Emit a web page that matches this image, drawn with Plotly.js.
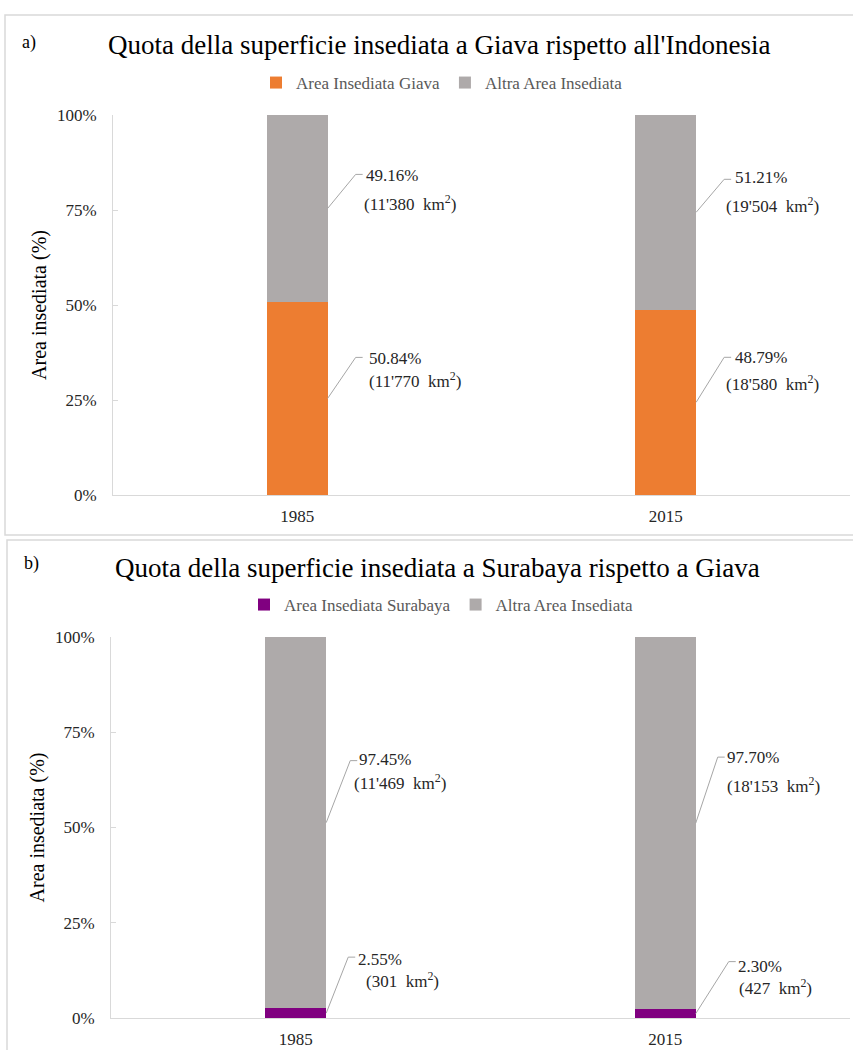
<!DOCTYPE html>
<html>
<head>
<meta charset="utf-8">
<script src="https://cdn.plot.ly/plotly-3.0.1.min.js"></script>
<style>html,body{margin:0;padding:0;background:#fff;}#chart{width:853px;height:1050px;}</style>
</head>
<body>
<div id="chart"></div>
<script>
// ---- data ----
const categories = ['1985', '2015'];
const yTicks = [0, 25, 50, 75, 100];
const yTickText = ['0%', '25%', '50%', '75%', '100%'];

// Panel a: Java vs rest of Indonesia
const giavaPct = [50.84, 48.79];
const giavaKm = ["11'770", "18'580"];
const altraPctA = [49.16, 51.21];
const altraKmA = ["11'380", "19'504"];

// Panel b: Surabaya vs rest of Java
const surabayaPct = [2.55, 2.30];
const surabayaKm = ["301", "427"];
const altraPctB = [97.45, 97.70];
const altraKmB = ["11'469", "18'153"];

const titleA = "Quota della superficie insediata a Giava rispetto all'Indonesia";
const titleB = "Quota della superficie insediata a Surabaya rispetto a Giava";
const yTitle = 'Area insediata (%)';

// ---- styling ----
const W = 853, H = 1050;
const FONT = 'Liberation Serif, Times New Roman, serif';
const ORANGE = '#ED7D31', GRAY = '#AEAAAA', PURPLE = '#800080';
const AXC = '#D9D9D9', LEADER = '#A6A6A6';
const BW = 0.165;
const px = v => v / W;
const py = v => 1 - v / H;

const traces = [
  {type: 'bar', x: categories, y: giavaPct, name: 'Area Insediata Giava', marker: {color: ORANGE}, width: BW, xaxis: 'x', yaxis: 'y', legend: 'legend', hoverinfo: 'skip'},
  {type: 'bar', x: categories, y: altraPctA, name: 'Altra Area Insediata', marker: {color: GRAY}, width: BW, xaxis: 'x', yaxis: 'y', legend: 'legend', hoverinfo: 'skip'},
  {type: 'bar', x: categories, y: surabayaPct, name: 'Area Insediata Surabaya', marker: {color: PURPLE}, width: BW, xaxis: 'x2', yaxis: 'y2', legend: 'legend2', hoverinfo: 'skip'},
  {type: 'bar', x: categories, y: altraPctB, name: 'Altra Area Insediata', marker: {color: GRAY}, width: BW, xaxis: 'x2', yaxis: 'y2', legend: 'legend2', hoverinfo: 'skip'}
];

// label offsets (pixels, right/up) : [elbowDx, elbowDy, t1dx, t1dy, t2dx, t2dy]
const offA = {
  bottom: [[28, 41, 39, 40, 39, 18], [28, 45, 37, 45, 28, 19]],
  top:    [[28, 34, 36, 33, 34, 5],  [28, 33, 37, 35, 28, 7]]
};
const offB = {
  bottom: [[22, 56, 30, 54, 38, 33], [33, 52, 40, 47, 41, 27]],
  top:    [[24, 62, 31, 63, 26, 41], [22, 66, 29, 66, 29, 38]]
};

const shapes = [];
const annotations = [];
const LABEL_FONT = {family: FONT, size: 17, color: '#262626'};

function addLabels(xref, yref, bottomVals, bottomKm, topVals, topKm, off) {
  categories.forEach((c, i) => {
    const xa = i + BW / 2;
    [[bottomVals[i] / 2, bottomVals[i], bottomKm[i], off.bottom[i]],
     [bottomVals[i] + topVals[i] / 2, topVals[i], topKm[i], off.top[i]]].forEach(([mid, val, km, o]) => {
      shapes.push({type: 'path', xref: xref, yref: yref, xsizemode: 'pixel', ysizemode: 'pixel',
        xanchor: xa, yanchor: mid,
        path: `M0,0 L${o[0]},${o[1]} L${o[0] + 7},${o[1]}`,
        line: {color: LEADER, width: 1}});
      annotations.push({xref: xref, yref: yref, x: xa, y: mid, xshift: o[2], yshift: o[3],
        xanchor: 'left', yanchor: 'middle', showarrow: false,
        text: val.toFixed(2) + '%', font: LABEL_FONT});
      annotations.push({xref: xref, yref: yref, x: xa, y: mid, xshift: o[4], yshift: o[5],
        xanchor: 'left', yanchor: 'middle', showarrow: false,
        text: '(' + km + '  km<sup>2</sup>)', font: LABEL_FONT});
    });
  });
}
addLabels('x', 'y', giavaPct, giavaKm, altraPctA, altraKmA, offA);
addLabels('x2', 'y2', surabayaPct, surabayaKm, altraPctB, altraKmB, offB);

// panel borders
shapes.push({type: 'rect', xref: 'paper', yref: 'paper', x0: px(5), x1: 1.02, y0: py(535), y1: py(15), line: {color: AXC, width: 1.5}});
shapes.push({type: 'rect', xref: 'paper', yref: 'paper', x0: px(7), x1: 1.02, y0: -0.02, y1: py(540), line: {color: AXC, width: 1.5}});

// titles
const TITLE_FONT = {family: FONT, size: 27, color: '#000'};
annotations.push({xref: 'paper', yref: 'paper', x: px(439), y: py(45), xanchor: 'center', yanchor: 'middle', showarrow: false, text: titleA, font: TITLE_FONT});
annotations.push({xref: 'paper', yref: 'paper', x: px(437), y: py(568), xanchor: 'center', yanchor: 'middle', showarrow: false, text: titleB, font: TITLE_FONT});
annotations.push({xref: 'paper', yref: 'paper', x: px(20), y: py(42), xanchor: 'left', yanchor: 'middle', showarrow: false, text: 'a)', font: {family: FONT, size: 18, color: '#000'}});
annotations.push({xref: 'paper', yref: 'paper', x: px(22), y: py(563), xanchor: 'left', yanchor: 'middle', showarrow: false, text: 'b)', font: {family: FONT, size: 18, color: '#000'}});

function xAxis(x0, anchor) {
  return {domain: [px(x0), px(850)], anchor: anchor, type: 'category', range: [-0.5, 1.5],
    showline: true, linecolor: AXC, linewidth: 1, ticks: '', showgrid: false, zeroline: false,
    tickfont: {family: FONT, size: 17, color: '#262626'}, ticklabelstandoff: 6, fixedrange: true};
}
function yAxis(top, bottom, anchor) {
  return {domain: [py(bottom), py(top)], anchor: anchor, range: [0, 100],
    tickmode: 'array', tickvals: yTicks, ticktext: yTickText,
    showline: true, linecolor: AXC, linewidth: 1, ticks: 'inside', ticklen: 5, tickcolor: AXC,
    showgrid: false, zeroline: false, ticklabelstandoff: 12,
    tickfont: {family: FONT, size: 17, color: '#262626'},
    title: {text: yTitle, font: {family: FONT, size: 20, color: '#000'}, standoff: 4}, fixedrange: true};
}

const legendBase = {orientation: 'h', xanchor: 'center', yanchor: 'middle', traceorder: 'normal',
  font: {family: FONT, size: 17, color: '#595959'}, bgcolor: 'rgba(0,0,0,0)', itemwidth: 30, itemclick: false, itemdoubleclick: false};

const layout = {
  width: W, height: H, margin: {l: 0, r: 0, t: 0, b: 0},
  paper_bgcolor: '#fff', plot_bgcolor: '#fff',
  barmode: 'stack', showlegend: true,
  font: {family: FONT},
  xaxis: xAxis(113, 'y'),
  yaxis: yAxis(115, 495, 'x'),
  xaxis2: xAxis(111, 'y2'),
  yaxis2: yAxis(637, 1018, 'x2'),
  legend: Object.assign({}, legendBase, {x: px(442), y: py(83)}),
  legend2: Object.assign({}, legendBase, {x: px(441), y: py(605)}),
  shapes: shapes,
  annotations: annotations
};

Plotly.newPlot('chart', traces, layout, {staticPlot: true, displayModeBar: false});
</script>
</body>
</html>
